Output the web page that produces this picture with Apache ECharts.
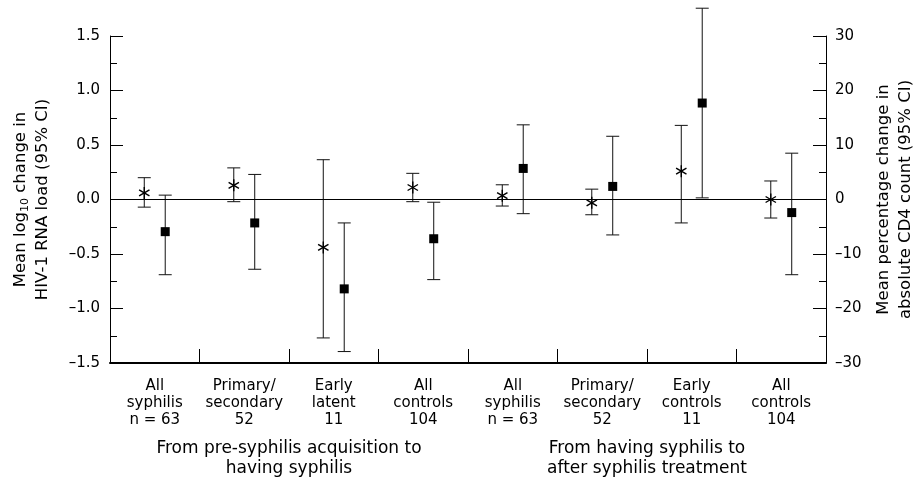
<!DOCTYPE html>
<html>
<head>
<meta charset="utf-8" />
<title>HIV-1 RNA load and CD4 change</title>
<script src="https://cdn.jsdelivr.net/npm/echarts@6/dist/echarts.min.js"></script>
<style>
  html, body { margin: 0; padding: 0; background: #fff; }
  #main { width: 914px; height: 484px; }
</style>
</head>
<body>
<div id="main"></div>
<script>
// categories (two periods, four groups each)
var categories = [
  'All\nsyphilis\nn = 63', 'Primary/\nsecondary\n52', 'Early\nlatent\n11', 'All\ncontrols\n104',
  'All\nsyphilis\nn = 63', 'Primary/\nsecondary\n52', 'Early\ncontrols\n11', 'All\ncontrols\n104'
];
var groups = ['From pre-syphilis acquisition to\nhaving syphilis', 'From having syphilis to\nafter syphilis treatment'];

// mean log10 change in HIV-1 RNA load (left axis) with 95% CI
var rnaMean = [0.06, 0.13, -0.44, 0.11, 0.035, -0.03, 0.26, 0.0];
var rnaLow  = [-0.07, -0.02, -1.27, -0.02, -0.06, -0.14, -0.215, -0.17];
var rnaHigh = [0.20, 0.29, 0.365, 0.24, 0.135, 0.095, 0.68, 0.17];

// mean percentage change in absolute CD4 count (right axis) with 95% CI
var cd4Mean = [-5.9, -4.3, -16.4, -7.2, 5.7, 2.4, 17.7, -2.4];
var cd4Low  = [-13.8, -12.8, -27.9, -14.7, -2.6, -6.5, 0.3, -13.8];
var cd4High = [0.8, 4.6, -4.3, -0.5, 13.7, 11.6, 35.1, 8.5];

var leftTicks = { min: -1.5, max: 1.5, interval: 0.5 };
var rightTicks = { min: -30, max: 30, interval: 10 };

var FONT = 'DejaVu Sans';

function rows(m, lo, hi) {
  return m.map(function (v, i) { return [i, v, lo[i], hi[i]]; });
}

function dash(s) { return s.replace('-', '\u2013'); }

function errorBar(side, marker) {
  return function (params, api) {
    var i = api.value(0);
    var band = api.size([1, 0])[0];
    var x = api.coord([i, 0])[0] + side * band * 0.117;
    var yc = api.coord([i, api.value(1)])[1];
    var yl = api.coord([i, api.value(2)])[1];
    var yh = api.coord([i, api.value(3)])[1];
    var cap = 6.5;
    var st = { stroke: '#111', lineWidth: 1 };
    var kids = [
      { type: 'line', shape: { x1: x, y1: yh, x2: x, y2: yl }, style: st },
      { type: 'line', shape: { x1: x - cap, y1: yh, x2: x + cap, y2: yh }, style: st },
      { type: 'line', shape: { x1: x - cap, y1: yl, x2: x + cap, y2: yl }, style: st }
    ];
    if (marker === 'star') {
      var r = 6;
      [90, 30, 150].forEach(function (a) {
        var t = a * Math.PI / 180;
        kids.push({
          type: 'line',
          shape: { x1: x - r * Math.cos(t), y1: yc - r * Math.sin(t), x2: x + r * Math.cos(t), y2: yc + r * Math.sin(t) },
          style: { stroke: '#000', lineWidth: 1.4 }
        });
      });
    } else {
      kids.push({ type: 'rect', shape: { x: x - 4.5, y: yc - 4.5, width: 9, height: 9 }, style: { fill: '#000' } });
    }
    return { type: 'group', children: kids };
  };
}

var chart = echarts.init(document.getElementById('main'));

chart.setOption({
  backgroundColor: '#fff',
  animation: false,
  textStyle: { fontFamily: FONT },
  grid: { left: 110, right: 88, top: 36, bottom: 121, containLabel: false, outerBoundsMode: 'none' },
  xAxis: [{
    type: 'category',
    data: categories,
    boundaryGap: true,
    axisLine: { show: true, onZero: false, lineStyle: { color: '#000', width: 2 } },
    axisTick: { show: true, inside: true, length: 14, interval: 0, alignWithLabel: false, lineStyle: { color: '#000', width: 1 } },
    axisLabel: { interval: 0, color: '#000', fontSize: 15, lineHeight: 17, margin: 15, fontFamily: FONT }
  }, {
    type: 'category',
    data: groups,
    position: 'bottom',
    axisLine: { show: false, onZero: false },
    axisTick: { show: false },
    axisLabel: { interval: 0, color: '#000', fontSize: 17, lineHeight: 20, margin: 76, fontFamily: FONT }
  }],
  yAxis: [{
    type: 'value',
    min: leftTicks.min, max: leftTicks.max, interval: leftTicks.interval,
    position: 'left',
    splitLine: { show: false },
    axisLine: { show: true, lineStyle: { color: '#000' } },
    axisTick: { show: true, inside: true, length: 13, lineStyle: { color: '#000' } },
    minorTick: { show: true, splitNumber: 2, length: 7, lineStyle: { color: '#000' } },
    axisLabel: { color: '#000', fontSize: 15, margin: 10, formatter: function (v) { return dash(v.toFixed(1)); } },
    name: 'Mean log{sub|10} change in\nHIV-1 RNA load (95% CI)',
    nameLocation: 'middle',
    nameRotate: 90,
    nameGap: 56,
    nameTextStyle: {
      color: '#000', fontSize: 16.5, lineHeight: 22, fontFamily: FONT,
      rich: { sub: { fontSize: 11, color: '#000', fontFamily: FONT, padding: [8, 0, 0, 0] } }
    }
  }, {
    type: 'value',
    min: rightTicks.min, max: rightTicks.max, interval: rightTicks.interval,
    position: 'right',
    splitLine: { show: false },
    axisLine: { show: true, lineStyle: { color: '#000' } },
    axisTick: { show: true, inside: true, length: 13, lineStyle: { color: '#000' } },
    minorTick: { show: true, splitNumber: 2, length: 7, lineStyle: { color: '#000' } },
    axisLabel: { color: '#000', fontSize: 15, margin: 9, formatter: function (v) { return dash(String(v)); } },
    name: 'Mean percentage change in\nabsolute CD4 count (95% CI)',
    nameLocation: 'middle',
    nameRotate: 90,
    nameGap: 41,
    nameTextStyle: { color: '#000', fontSize: 16.5, lineHeight: 22, fontFamily: FONT }
  }],
  series: [{
    name: 'HIV-1 RNA',
    type: 'custom',
    xAxisIndex: 0,
    yAxisIndex: 0,
    renderItem: errorBar(-1, 'star'),
    data: rows(rnaMean, rnaLow, rnaHigh),
    // zero reference line
    markLine: {
      silent: true,
      symbol: 'none',
      label: { show: false },
      lineStyle: { color: '#000', width: 1, type: 'solid' },
      data: [{ yAxis: 0 }]
    }
  }, {
    name: 'CD4',
    type: 'custom',
    xAxisIndex: 0,
    yAxisIndex: 1,
    renderItem: errorBar(1, 'square'),
    data: rows(cd4Mean, cd4Low, cd4High)
  }]
});
</script>
</body>
</html>
